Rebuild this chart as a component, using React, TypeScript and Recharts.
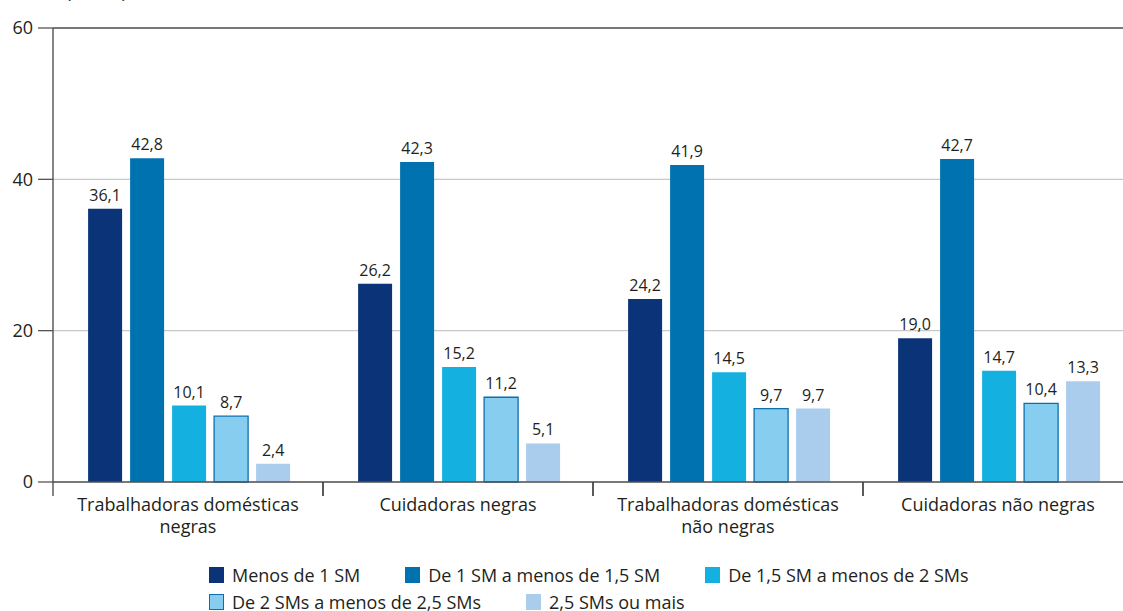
import { BarChart, Bar, XAxis, YAxis, CartesianGrid, LabelList, ReferenceLine } from "recharts";

const categories = [
  "Trabalhadoras domésticas\nnegras",
  "Cuidadoras negras",
  "Trabalhadoras domésticas\nnão negras",
  "Cuidadoras não negras",
];

const seriesNames = [
  "Menos de 1 SM",
  "De 1 SM a menos de 1,5 SM",
  "De 1,5 SM a menos de 2 SMs",
  "De 2 SMs a menos de 2,5 SMs",
  "2,5 SMs ou mais",
];

const menos1 = [36.1, 26.2, 24.2, 19.0];
const de1a15 = [42.8, 42.3, 41.9, 42.7];
const de15a2 = [10.1, 15.2, 14.5, 14.7];
const de2a25 = [8.7, 11.2, 9.7, 10.4];
const mais25 = [2.4, 5.1, 9.7, 13.3];

const yTicks = [0, 20, 40, 60];

const colors = ["#0a3378", "#0072b0", "#14b1e0", "#86cdef", "#aacdee"];
const strokes = ["none", "none", "none", "#0b6fae", "none"];

const keys = ["s0", "s1", "s2", "s3", "s4"];
const allSeries = [menos1, de1a15, de15a2, de2a25, mais25];

const data = categories.map((c, i) => {
  const row: Record<string, string | number> = { name: c };
  allSeries.forEach((s, j) => (row[keys[j]] = s[i]));
  return row;
});

const FONT = "'Open Sans', sans-serif";
const HALF_BAND = 135;

const fmt = (v: number) => v.toFixed(1).replace(".", ",");

function CategoryTick(props: any) {
  const { x, y, payload } = props;
  const lines = String(payload.value).split("\n");
  return (
    <g>
      <line x1={x - HALF_BAND} x2={x - HALF_BAND} y1={y} y2={y + 14} stroke="#444" strokeWidth={1.3} />
      <line x1={x + HALF_BAND} x2={x + HALF_BAND} y1={y} y2={y + 14} stroke="#444" strokeWidth={1.3} />
      {lines.map((l, i) => (
        <text
          key={i}
          x={x}
          y={y + 29 + i * 22}
          textAnchor="middle"
          fill="#231f20"
          fontSize={18}
          fontFamily={FONT}
        >
          {l}
        </text>
      ))}
    </g>
  );
}

export default function App() {
  return (
    <div
      style={{
        position: "absolute",
        left: 0,
        top: 0,
        width: 1123,
        height: 611,
        overflow: "hidden",
        background: "#fff",
        fontFamily: FONT,
      }}
    >
      <div style={{ position: "absolute", left: 66, top: -21, fontSize: 18, lineHeight: "24px", color: "#231f20", wordSpacing: 4 }}>
        (Em %)
      </div>
      <BarChart
        width={1140}
        height={611}
        data={data}
        margin={{ top: 28, right: 7, bottom: 0, left: 0 }}
        barCategoryGap="13%"
        barGap={8}
      >
        <CartesianGrid vertical={false} stroke="#c8c8c8" strokeWidth={1.2} />
        <ReferenceLine y={60} stroke="#555" strokeWidth={1.5} />
        <YAxis
          width={53}
          domain={[0, 60]}
          ticks={yTicks}
          tickSize={15}
          tickMargin={5}
          axisLine={{ stroke: "#444", strokeWidth: 1.3 }}
          tickLine={{ stroke: "#555", strokeWidth: 1.3 }}
          tick={{ fill: "#231f20", fontSize: 18, fontFamily: FONT }}
        />
        <XAxis
          dataKey="name"
          height={129}
          tickSize={0}
          tickMargin={0}
          tickLine={false}
          axisLine={{ stroke: "#555", strokeWidth: 1.5 }}
          tick={<CategoryTick />}
          interval={0}
        />
        {keys.map((k, j) => (
          <Bar
            key={k}
            dataKey={k}
            name={seriesNames[j]}
            fill={colors[j]}
            stroke={strokes[j]}
            strokeWidth={1.3}
            isAnimationActive={false}
          >
            <LabelList
              dataKey={k}
              position="top"
              offset={8}
              formatter={(v: any) => fmt(Number(v))}
              style={{ fill: "#231f20", fontSize: 16, fontFamily: FONT }}
            />
          </Bar>
        ))}
      </BarChart>
      <div
        style={{
          position: "absolute",
          left: 209,
          top: 563,
          width: 800,
          display: "flex",
          flexWrap: "wrap",
          columnGap: 45,
          rowGap: 3,
          fontSize: 18,
          lineHeight: "24px",
          color: "#231f20",
        }}
      >
        {seriesNames.map((n, j) => (
          <div key={n} style={{ display: "flex", alignItems: "center", height: 24 }}>
            <span
              style={{
                display: "inline-block",
                width: 15,
                height: 16,
                boxSizing: "border-box",
                background: colors[j],
                border: strokes[j] === "none" ? "none" : `1.5px solid ${strokes[j]}`,
                marginRight: 8,
              }}
            />
            <span>{n}</span>
          </div>
        ))}
      </div>
    </div>
  );
}
